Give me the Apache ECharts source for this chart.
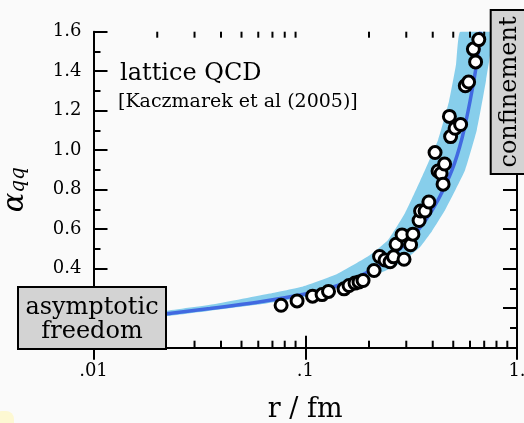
<!DOCTYPE html>
<html>
<head>
<meta charset="utf-8">
<script src="https://cdn.jsdelivr.net/npm/echarts@6/dist/echarts.min.js"></script>
<style>
  html, body { margin: 0; padding: 0; background: #fafafa; }
  #chart { width: 524px; height: 423px; }
</style>
</head>
<body>
<div id="chart"></div>
<script>
// lattice data points (r in fm, alpha_qq)
const pointsR = [0.0769, 0.0915, 0.1083, 0.1201, 0.1288, 0.1525, 0.1610, 0.1718, 0.1795, 0.1875,
  0.2113, 0.2244, 0.2382, 0.2516, 0.2613, 0.2928, 0.2685, 0.2866, 0.3144, 0.3224,
  0.3448, 0.3504, 0.3680, 0.3835, 0.4102, 0.4238, 0.4379, 0.4550, 0.4476, 0.4858,
  0.4795, 0.5101, 0.5416, 0.5700, 0.5908, 0.6223, 0.6375, 0.6600]
const pointsAlpha = [0.215, 0.237, 0.261, 0.269, 0.285, 0.298, 0.315, 0.327, 0.333, 0.340,
  0.391, 0.462, 0.444, 0.435, 0.460, 0.448, 0.524, 0.571, 0.521, 0.575,
  0.644, 0.692, 0.692, 0.738, 0.988, 0.895, 0.882, 0.930, 0.828, 1.069,
  1.171, 1.111, 1.130, 1.326, 1.345, 1.512, 1.447, 1.560]

// central curve
const lineR = [0.01, 0.01487, 0.02177, 0.0355, 0.0625, 0.0998, 0.131, 0.1627, 0.1917, 0.2256,
  0.2656, 0.3127, 0.368, 0.4238, 0.4936, 0.5503, 0.6004, 0.6480, 0.6731]
const lineAlpha = [0.135, 0.150, 0.171, 0.198, 0.234, 0.272, 0.302, 0.338, 0.376, 0.419,
  0.479, 0.550, 0.642, 0.748, 0.900, 1.062, 1.249, 1.452, 1.600]

// uncertainty band edges
const bandUpR = [0.01, 0.02177, 0.0375, 0.0682, 0.0976, 0.1413, 0.2024, 0.2460, 0.2960, 0.3486, 0.4238, 0.4778, 0.5156, 0.5385]
const bandUpAlpha = [0.148, 0.186, 0.221, 0.274, 0.310, 0.373, 0.469, 0.545, 0.682, 0.844, 1.052, 1.249, 1.436, 1.600]
const bandLoR = [0.01, 0.02177, 0.0625, 0.0998, 0.1459, 0.1917, 0.2434, 0.2866, 0.3486, 0.3972, 0.4575, 0.5688, 0.6459, 0.7145, 0.7627]
const bandLoAlpha = [0.128, 0.158, 0.221, 0.257, 0.305, 0.348, 0.393, 0.434, 0.510, 0.591, 0.697, 0.900, 1.102, 1.355, 1.600]

// axes
const xTickValues = [0.01, 0.1, 1]
const xTickLabels = ['.01', '.1', '1.']
const xMinorTicks = [0.02, 0.03, 0.04, 0.05, 0.06, 0.07, 0.08, 0.09, 0.2, 0.3, 0.4, 0.5, 0.6, 0.7, 0.8, 0.9]

const FONT = 'DejaVu Serif'
const zip = (a, b) => a.map((v, i) => [v, b[i]])

const chart = echarts.init(document.getElementById('chart'))

const xLabel = v => {
  const i = xTickValues.findIndex(t => Math.abs(Math.log10(t) - Math.log10(v)) < 1e-6)
  return i >= 0 ? xTickLabels[i] : ''
}

const baseX = {
  type: 'log',
  logBase: 10,
  min: 0.01,
  max: 1,
  axisLine: { lineStyle: { color: '#000', width: 2 } },
  axisTick: { inside: true, length: 12, lineStyle: { color: '#000', width: 2 } },
  splitLine: { show: false },
  minorTick: { show: false }
}
const baseY = {
  type: 'value',
  min: 0,
  max: 1.6,
  interval: 0.2,
  axisLine: { show: true, lineStyle: { color: '#000', width: 2 } },
  axisTick: { show: true, inside: true, length: 14, lineStyle: { color: '#000', width: 2 } },
  minorTick: { show: true, splitNumber: 2, length: 7, lineStyle: { color: '#000', width: 2 } },
  splitLine: { show: false }
}

const option = {
  backgroundColor: '#fafafa',
  animation: false,
  grid: { left: 93.5, right: 7, top: 31.7, bottom: 75.3, containLabel: false, outerBoundsMode: 'none' },
  xAxis: [
    Object.assign({}, baseX, {
      position: 'bottom',
      name: 'r / fm',
      nameLocation: 'middle',
      nameGap: 49,
      nameTextStyle: { fontFamily: FONT, fontSize: 27, color: '#000' },
      axisLabel: { formatter: xLabel, fontFamily: FONT, fontSize: 18, color: '#000', margin: 15 }
    }),
    Object.assign({}, baseX, { position: 'top', axisLabel: { show: false } })
  ],
  yAxis: [
    Object.assign({}, baseY, {
      position: 'left',
      name: '{a|α}{s|qq}',
      nameLocation: 'middle',
      nameRotate: 90,
      nameGap: 65,
      nameTextStyle: {
        color: '#000',
        rich: {
          a: { fontFamily: FONT, fontStyle: 'italic', fontSize: 29, lineHeight: 28, padding: [0, 0, 4, 0], color: '#000', verticalAlign: 'top' },
          s: { fontFamily: FONT, fontStyle: 'italic', fontSize: 20, lineHeight: 20, color: '#000', verticalAlign: 'bottom' }
        }
      },
      axisLabel: {
        formatter: v => (v < 0.3 ? '' : v.toFixed(1)),
        fontFamily: FONT, fontSize: 18, color: '#000', margin: 12
      }
    }),
    Object.assign({}, baseY, { position: 'right', axisLabel: { show: false } })
  ],
  series: [
    {
      name: 'band',
      type: 'custom',
      clip: true,
      silent: true,
      z: 1,
      data: [[bandUpR[0], bandUpAlpha[0]]],
      renderItem: (params, api) => {
        const up = zip(bandUpR, bandUpAlpha).map(p => api.coord(p))
        const lo = zip(bandLoR, bandLoAlpha).map(p => api.coord(p)).reverse()
        return {
          type: 'polygon',
          shape: { points: up.concat(lo), smooth: 0.12 },
          style: { fill: '#87ceeb', stroke: null }
        }
      }
    },
    {
      name: 'curve',
      type: 'line',
      z: 2,
      smooth: 0.3,
      symbol: 'none',
      clip: true,
      lineStyle: { color: '#4169e1', width: 3.5 },
      data: zip(lineR, lineAlpha)
    },
    {
      name: 'lattice',
      type: 'scatter',
      z: 3,
      symbol: 'circle',
      symbolSize: 12,
      itemStyle: { color: '#fff', borderColor: '#000', borderWidth: 3, opacity: 1 },
      data: zip(pointsR, pointsAlpha)
    },
    {
      // minor log ticks on bottom and top axes
      name: 'minorTicks',
      type: 'custom',
      silent: true,
      z: 4,
      data: xMinorTicks.map(v => [v, 0]),
      renderItem: (params, api) => {
        const v = api.value(0)
        const b = api.coord([v, 0])
        const t = api.coord([v, 1.6])
        const st = { stroke: '#000', lineWidth: 2 }
        return {
          type: 'group',
          children: [
            { type: 'line', shape: { x1: b[0], y1: b[1], x2: b[0], y2: b[1] - 7 }, style: st },
            { type: 'line', shape: { x1: t[0], y1: t[1], x2: t[0], y2: t[1] + 6 }, style: st }
          ]
        }
      }
    }
  ],
  graphic: [
    {
      type: 'text', left: 120, top: 62, z: 100,
      style: { text: 'lattice QCD', fontFamily: FONT, fontSize: 24, fill: '#000' }
    },
    {
      type: 'text', left: 118, top: 93, z: 100,
      style: { text: '[Kaczmarek et al (2005)]', fontFamily: FONT, fontSize: 19, fill: '#000' }
    },
    {
      type: 'group', left: 17, top: 286, z: 100,
      children: [
        { type: 'rect', shape: { x: 0, y: 0, width: 148, height: 62 }, style: { fill: '#d3d3d3', stroke: '#000', lineWidth: 2 }, z: 100 },
        { type: 'text', x: 74, y: 33, z: 101, style: { text: 'asymptotic\nfreedom', fontFamily: FONT, fontSize: 24, lineHeight: 24, fill: '#000', align: 'center', verticalAlign: 'middle' } }
      ]
    },
    {
      type: 'group', left: 489.7, top: 9, z: 100,
      children: [
        { type: 'rect', shape: { x: 0, y: 0, width: 40, height: 164 }, style: { fill: '#d3d3d3', stroke: '#000', lineWidth: 2 }, z: 100 },
        { type: 'text', x: 19, y: 82, rotation: Math.PI / 2, z: 101, style: { text: 'confinement', fontFamily: FONT, fontSize: 24, fill: '#000', align: 'center', verticalAlign: 'middle' } }
      ]
    },
    {
      type: 'rect', left: -6, top: 411, z: 100,
      shape: { width: 20, height: 20, r: 8 },
      style: { fill: '#fdf8d2' }
    }
  ]
}

chart.setOption(option)
</script>
</body>
</html>
